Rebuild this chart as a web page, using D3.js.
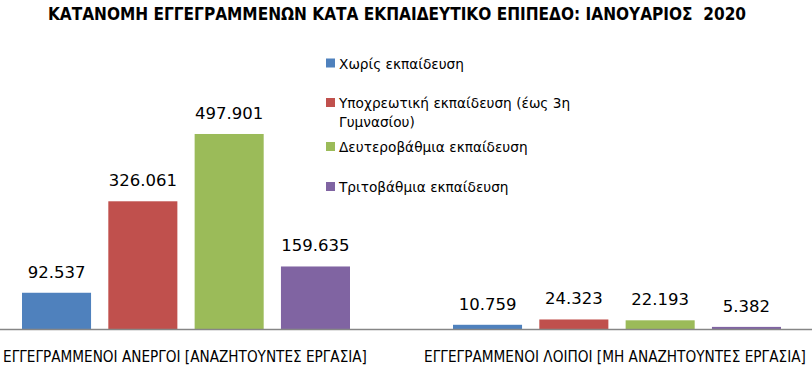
<!DOCTYPE html>
<html><head><meta charset="utf-8">
<script src="https://cdn.jsdelivr.net/npm/d3@7"></script>
<style>html,body{margin:0;padding:0;background:#fff;overflow:hidden} text{white-space:pre}</style>
</head><body>
<svg id="c" width="812" height="365"></svg>
<script>
const title = "ΚΑΤΑΝΟΜΗ ΕΓΓΕΓΡΑΜΜΕΝΩΝ ΚΑΤΑ ΕΚΠΑΙΔΕΥΤΙΚΟ ΕΠΙΠΕΔΟ: ΙΑΝΟΥΑΡΙΟΣ  2020";
const categories = ["ΕΓΓΕΓΡΑΜΜΕΝΟΙ ΑΝΕΡΓΟΙ [ΑΝΑΖΗΤΟΥΝΤΕΣ ΕΡΓΑΣΙΑ]", "ΕΓΓΕΓΡΑΜΜΕΝΟΙ ΛΟΙΠΟΙ [ΜΗ ΑΝΑΖΗΤΟΥΝΤΕΣ ΕΡΓΑΣΙΑ]"];
const series = ["Χωρίς εκπαίδευση", "Υποχρεωτική εκπαίδευση (έως 3η Γυμνασίου)", "Δευτεροβάθμια εκπαίδευση", "Τριτοβάθμια εκπαίδευση"];
const legendLines = [["Χωρίς εκπαίδευση"], ["Υποχρεωτική εκπαίδευση (έως 3η", "Γυμνασίου)"], ["Δευτεροβάθμια εκπαίδευση"], ["Τριτοβάθμια εκπαίδευση"]];
const colors = ["#4F81BD", "#C0504D", "#9BBB59", "#8064A2"];
const noEducation = [92537, 10759];
const compulsory = [326061, 24323];
const secondary = [497901, 22193];
const tertiary = [159635, 5382];
const values = [noEducation, compulsory, secondary, tertiary];

const svg = d3.select("#c");
const fmt = v => d3.format(",")(v).replace(/,/g, ".");
const narrow = "'Liberation Sans Narrow','DejaVu Sans Condensed','Liberation Sans',sans-serif";

function fitText(sel, target, baseSize) {
  sel.attr("font-size", baseSize);
  const w = sel.node().getComputedTextLength();
  const fs = baseSize * target / w;
  sel.attr("font-size", fs.toFixed(2));
}

const x0 = d3.scaleBand().domain(categories).range([-29.5, 832.5]).padding(0);
const x1 = d3.scaleBand().domain(series).range([51.5, 431 - 51.5]).paddingInner(0.2).paddingOuter(0);
const y = d3.scaleLinear().domain([0, 600000]).range([329, 94]);

// title
const t = svg.append("text").attr("x", 397).attr("y", 20).attr("text-anchor", "middle")
  .attr("xml:space", "preserve")
  .attr("font-family", narrow).attr("font-weight", "bold")
  .attr("fill", "#000").text(title);
fitText(t, 698, 19);

// bars
const data = [];
categories.forEach((c, ci) => series.forEach((s, si) => data.push({c, s, si, v: values[si][ci]})));
svg.append("g").selectAll("rect").data(data).join("rect")
  .attr("x", d => x0(d.c) + x1(d.s))
  .attr("y", d => y(d.v))
  .attr("width", x1.bandwidth())
  .attr("height", d => y(0) - y(d.v))
  .attr("fill", d => colors[d.si]);

// value labels
svg.append("g").selectAll("text").data(data).join("text")
  .attr("x", d => x0(d.c) + x1(d.s) + x1.bandwidth() / 2)
  .attr("y", d => y(d.v) - 15)
  .attr("text-anchor", "middle")
  .attr("font-family", "'DejaVu Sans',sans-serif").attr("font-size", 16.5)
  .attr("fill", "#000").text(d => fmt(d.v));

// axis
const ax = svg.append("g").attr("transform", `translate(0,${y(0)})`)
  .call(d3.axisBottom(x0).tickSize(0).tickFormat(""));
ax.select(".domain").attr("stroke", "#868686").attr("stroke-width", 1.3);

// category labels
const catW = [364, 382];
const catOff = [-1, -2];
svg.append("g").selectAll("text").data(categories).join("text")
  .attr("x", (d, i) => x0(d) + x0.bandwidth() / 2 + catOff[i])
  .attr("y", 362)
  .attr("text-anchor", "middle")
  .attr("font-family", narrow)
  .attr("fill", "#000").text(d => d)
  .each(function (d, i) { fitText(d3.select(this), catW[i], 16); });

// legend
const legendY = [68.5, 108, 152, 192];
const lg = svg.append("g");
series.forEach((s, i) => {
  lg.append("rect").attr("x", 326).attr("y", legendY[i] - 10).attr("width", 9).attr("height", 9).attr("fill", colors[i]);
  legendLines[i].forEach((ln, j) => {
    lg.append("text").attr("x", 339).attr("y", legendY[i] + j * 19)
      .attr("font-family", "'DejaVu Sans',sans-serif").attr("font-size", 13.7)
      .attr("fill", "#000").text(ln);
  });
});
</script>
</body></html>
